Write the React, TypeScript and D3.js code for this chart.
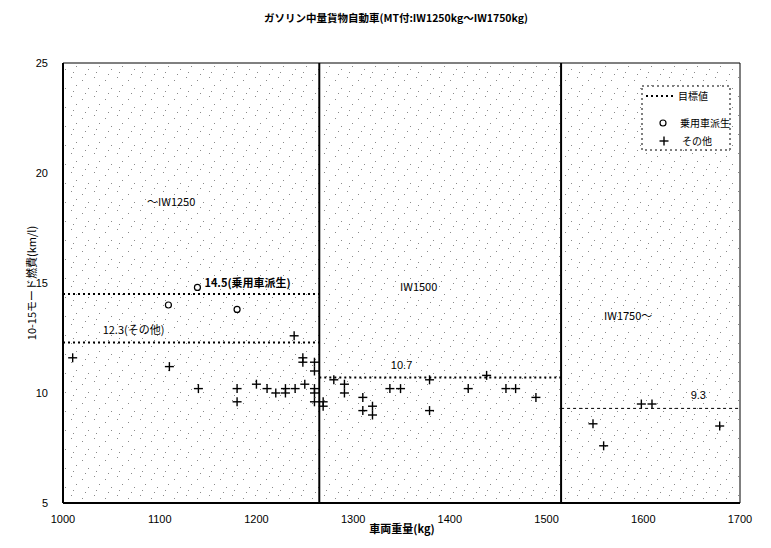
import * as d3 from "d3";

const W = 771;
const H = 548;
const margin = { top: 63, right: 31, bottom: 45, left: 63 };

// 乗用車派生 (circles): [車両重量 kg, 燃費 km/l]
const passengerDerived: [number, number][] = [
  [1139, 14.8],
  [1109, 14.0],
  [1180, 13.8],
];

// その他 (crosses)
const others: [number, number][] = [
  [1010, 11.6], [1110, 11.2], [1140, 10.2], [1180, 10.2], [1180, 9.6],
  [1200, 10.4], [1211, 10.2], [1220, 10.0], [1230, 10.2], [1230, 10.0],
  [1240, 10.2], [1239, 12.6], [1250, 10.4], [1248, 11.6], [1248, 11.4],
  [1260, 11.4], [1260, 11.0], [1260, 10.2], [1260, 10.0], [1260, 9.6],
  [1269, 9.6], [1269, 9.4], [1280, 10.6], [1291, 10.4], [1291, 10.0],
  [1310, 9.8], [1310, 9.2], [1320, 9.4], [1320, 9.0], [1338, 10.2],
  [1349, 10.2], [1379, 10.6], [1379, 9.2], [1419, 10.2], [1438, 10.8],
  [1458, 10.2], [1468, 10.2], [1489, 9.8], [1548, 8.6], [1559, 7.6],
  [1598, 9.5], [1609, 9.5], [1679, 8.5],
];

// 目標値 segments: [from kg, to kg, value]
const targets: [number, number, number][] = [
  [1000, 1265, 14.5],
  [1000, 1265, 12.3],
  [1265, 1515, 10.7],
  [1515, 1700, 9.3],
];

const classBounds = [1265, 1515];
const xTicks = [1000, 1100, 1200, 1300, 1400, 1500, 1600, 1700];
const yTicks = [5, 10, 15, 20, 25];

const jp = "'Noto Sans CJK JP', sans-serif";
const num = "'Liberation Sans', Arial, sans-serif";

// scanned-paper grain inside the plot (fixed dot layout of one tile)
const grainDots = [
  [2, 1], [13, 4], [7, 9], [19, 12], [4, 15], [16, 17],
];

export default function App() {
  const x = d3.scaleLinear().domain([1000, 1700]).range([margin.left, W - margin.right]);
  const y = d3.scaleLinear().domain([5, 25]).range([H - margin.bottom, margin.top]);
  const [x0, x1] = x.range();
  const [y0, y1] = y.range();

  const cross = (cx: number, cy: number, k: string) => (
    <g key={k} stroke="#000" strokeWidth={1.4}>
      <line x1={cx - 4.5} x2={cx + 4.5} y1={cy} y2={cy} />
      <line x1={cx} x2={cx} y1={cy - 4.5} y2={cy + 4.5} />
    </g>
  );

  return (
    <svg width={W} height={H} style={{ position: "absolute", left: 0, top: 0, background: "#fff" }}>
      <defs>
        <pattern id="grain" width="23" height="19" patternUnits="userSpaceOnUse">
          {grainDots.map(([a, b], i) => (
            <rect key={i} x={a} y={b} width="1" height="1" fill="#8a8a8a" />
          ))}
        </pattern>
      </defs>

      <text x={396} y={22} textAnchor="middle" fontFamily={jp} fontSize={10.5} fontWeight="bold">
        ガソリン中量貨物自動車(MT付:IW1250kg〜IW1750kg)
      </text>

      <rect x={x0} y={y1} width={x1 - x0} height={y0 - y1} fill="url(#grain)" />

      {/* frame */}
      <line x1={x0} x2={x1} y1={y1} y2={y1} stroke="#000" strokeWidth={1} />
      <line x1={x1} x2={x1} y1={y1} y2={y0} stroke="#000" strokeWidth={1} />
      <line x1={x0} x2={x0} y1={y1} y2={y0} stroke="#000" strokeWidth={2} />
      <line x1={x0} x2={x1} y1={y0} y2={y0} stroke="#000" strokeWidth={2} />

      {classBounds.map((b) => (
        <line key={b} x1={x(b)} x2={x(b)} y1={y1} y2={y0} stroke="#000" strokeWidth={2} />
      ))}

      {targets.map(([a, b, v], i) => (
        <line
          key={i}
          x1={x(a)}
          x2={x(b)}
          y1={y(v)}
          y2={y(v)}
          stroke="#000"
          strokeWidth={i < 3 ? 2 : 1}
          strokeDasharray={i < 3 ? "2,3" : "3,3"}
        />
      ))}

      {yTicks.map((t) => (
        <text key={t} x={48} y={y(t) + 4} textAnchor="end" fontFamily={num} fontSize={11}>
          {t}
        </text>
      ))}
      {xTicks.map((t) => (
        <text key={t} x={x(t)} y={523} textAnchor="middle" fontFamily={num} fontSize={11}>
          {t}
        </text>
      ))}

      <text x={402} y={533} textAnchor="middle" fontFamily={jp} fontSize={11} fontWeight="bold">
        車両重量(kg)
      </text>
      <text
        transform={`translate(36,${(y0 + y1) / 2}) rotate(-90)`}
        textAnchor="middle"
        fontFamily={jp}
        fontSize={11}
      >
        10-15モード燃費(km/l)
      </text>

      {/* class labels */}
      <text x={147} y={206} fontFamily={jp} fontSize={11}>〜IW1250</text>
      <text x={400} y={291} fontFamily={jp} fontSize={11}>IW1500</text>
      <text x={604} y={320} fontFamily={jp} fontSize={11}>IW1750〜</text>

      {/* target labels */}
      <text x={x(1140) + 6} y={y(14.5) - 7} fontFamily={jp} fontSize={11} fontWeight="bold">14.5(乗用車派生)</text>
      <text x={x(1041)} y={y(12.3) - 8} fontFamily={jp} fontSize={11}>12.3(その他)</text>
      <text x={x(1339)} y={y(10.7) - 9} fontFamily={num} fontSize={11}>10.7</text>
      <text x={x(1649)} y={y(9.3) - 9} fontFamily={num} fontSize={11}>9.3</text>

      {passengerDerived.map(([a, b], i) => (
        <circle key={i} cx={x(a)} cy={y(b)} r={3} fill="#fff" stroke="#000" strokeWidth={1.2} />
      ))}
      {others.map(([a, b], i) => cross(x(a), y(b), `o${i}`))}

      {/* legend */}
      <rect x={642} y={86} width={88} height={64} fill="#fff" stroke="#000" strokeWidth={1} strokeDasharray="2,3" />
      <line x1={646} x2={675} y1={96} y2={96} stroke="#000" strokeWidth={2} strokeDasharray="2,3" />
      <text x={678} y={100} fontFamily={jp} fontSize={10}>目標値</text>
      <circle cx={663} cy={123} r={3} fill="#fff" stroke="#000" strokeWidth={1.2} />
      <text x={680} y={127} fontFamily={jp} fontSize={10}>乗用車派生</text>
      {cross(664, 141, "lg")}
      <text x={682} y={145} fontFamily={jp} fontSize={10}>その他</text>
    </svg>
  );
}
